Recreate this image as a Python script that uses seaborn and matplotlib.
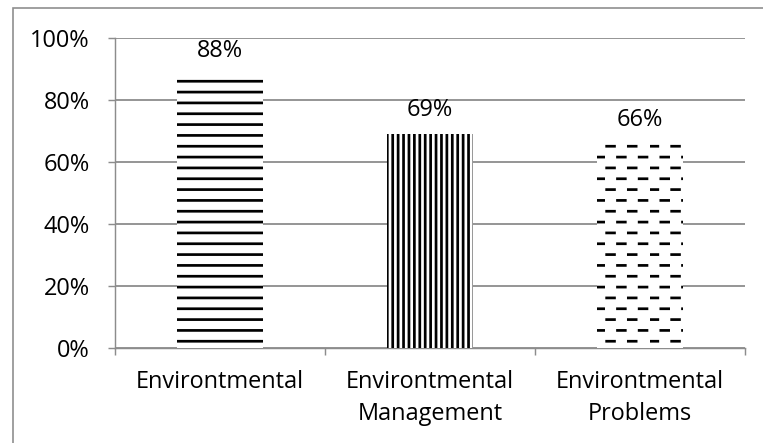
import warnings
import numpy as np
import pandas as pd
import matplotlib
matplotlib.use("Agg")
import matplotlib.pyplot as plt
import matplotlib.hatch as mhatch
from matplotlib.path import Path
from matplotlib.patches import Rectangle
import seaborn as sns

warnings.filterwarnings("ignore", category=matplotlib.MatplotlibDeprecationWarning)

# Data
categories = ["Environtmental", "Environtmental\nManagement", "Environtmental\nProblems"]
values = [0.88, 0.69, 0.66]
hatches = ["--", "||||", "__"]
y_ticks = [0.0, 0.2, 0.4, 0.6, 0.8, 1.0]
y_tick_labels = ["0%", "20%", "40%", "60%", "80%", "100%"]


class DashedRowsHatch(mhatch.HatchPatternBase):
    """Rows of short dashes, alternate rows shifted by half a period."""
    dashes_per_row = 6
    dash_fraction = 0.36

    def __init__(self, hatch, density):
        self.num_rows = int(hatch.count("_") * density)
        self.num_vertices = self.num_rows * self.dashes_per_row * 2

    def set_vertices_and_codes(self, vertices, codes):
        period = 1.0 / self.dashes_per_row
        dash = period * self.dash_fraction
        rows = (np.arange(self.num_rows) + 0.5) / self.num_rows
        i = 0
        for r, y in enumerate(rows):
            shift = 0.0 if r % 2 == 0 else period / 2
            for k in range(self.dashes_per_row):
                x0 = k * period + shift
                vertices[i] = (x0, y)
                vertices[i + 1] = (x0 + dash, y)
                codes[i] = Path.MOVETO
                codes[i + 1] = Path.LINETO
                i += 2


mhatch._hatch_types.append(DashedRowsHatch)

DPI = 130
W, H = 763, 443
GRID = "#8c8c8c"
FS = 13

sns.set_theme(style="white")
plt.rcParams["font.family"] = ["Open Sans", "DejaVu Sans"]
plt.rcParams["hatch.linewidth"] = 1.5

fig, ax = plt.subplots(figsize=(W / DPI, H / DPI), dpi=DPI)
fig.subplots_adjust(left=115 / W, right=745 / W, top=1 - 38 / H, bottom=1 - 348 / H)

df = pd.DataFrame({"category": categories, "value": values})
sns.barplot(data=df, x="category", y="value", color="white", width=0.405,
            edgecolor="black", linewidth=0, saturation=1, ax=ax)

for bar, h in zip(ax.patches, hatches):
    bar.set_hatch(h)
    bar.set_facecolor("white")
    bar.set_edgecolor("black")
    bar.set_linewidth(0)
    bar.set_zorder(3)

ax.bar_label(ax.containers[0], labels=[f"{v:.0%}" for v in values],
             padding=6.5, fontsize=FS, color="black")

ax.set_ylim(0, 1)
ax.set_xlim(-0.5, len(categories) - 0.5)
ax.set_yticks(y_ticks)
ax.set_yticklabels(y_tick_labels)
ax.yaxis.grid(True, color=GRID, linewidth=1.0)
ax.set_axisbelow(True)

ax.tick_params(axis="y", which="major", length=4, width=0.8, color=GRID,
               direction="out", pad=10, labelsize=FS, labelcolor="black", left=True)
ax.tick_params(axis="x", which="major", length=0, pad=12, labelsize=FS, labelcolor="black")
for lab in ax.get_xticklabels():
    lab.set_linespacing(1.45)
ax.set_xticks(np.arange(-0.5, len(categories)), minor=True)
ax.tick_params(axis="x", which="minor", length=4, width=0.8, color=GRID,
               direction="out", bottom=True)

ax.set_xlabel("")
ax.set_ylabel("")
for side in ["top", "right"]:
    ax.spines[side].set_visible(False)
for side in ["left", "bottom"]:
    ax.spines[side].set_color(GRID)
    ax.spines[side].set_linewidth(0.8)

# Chart frame, running off the right and bottom edges
fig.patches.append(Rectangle((13 / W, -0.05), 1.1, 1 - 8 / H + 0.05,
                             transform=fig.transFigure, fill=False,
                             edgecolor=GRID, linewidth=0.9, clip_on=False))

fig.savefig("out.png", dpi=DPI)
